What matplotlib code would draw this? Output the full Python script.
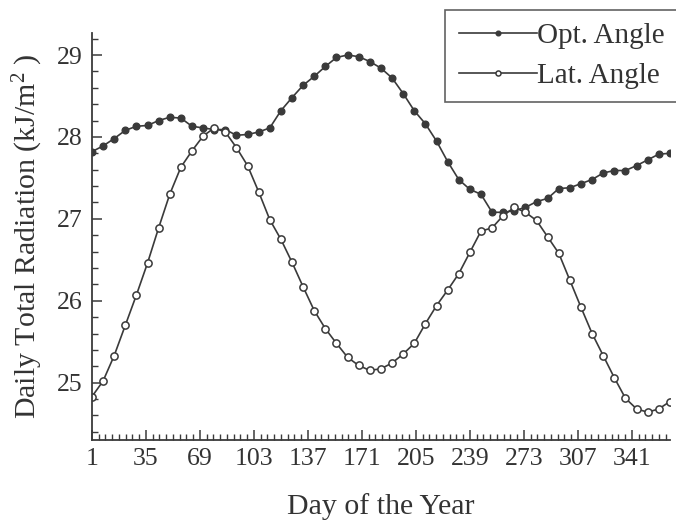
import matplotlib
matplotlib.use("Agg")
import matplotlib.pyplot as plt
from matplotlib.ticker import MultipleLocator

plt.rcParams['font.family'] = ['Liberation Serif', 'DejaVu Serif']
plt.rcParams['mathtext.fontset'] = 'custom'
plt.rcParams['mathtext.rm'] = 'Liberation Serif'
plt.rcParams['mathtext.it'] = 'Liberation Serif:italic'

# one point per week, day 1 .. day 365
days = list(range(1, 366, 7))

opt_angle = [27.82, 27.89, 27.98, 28.08, 28.13, 28.14, 28.20, 28.24, 28.23, 28.13,
             28.11, 28.09, 28.09, 28.02, 28.03, 28.06, 28.11, 28.32, 28.48, 28.63,
             28.74, 28.86, 28.97, 29.00, 28.98, 28.92, 28.84, 28.72, 28.53, 28.32,
             28.16, 27.95, 27.70, 27.48, 27.36, 27.30, 27.08, 27.08, 27.10, 27.14,
             27.21, 27.25, 27.37, 27.38, 27.43, 27.48, 27.56, 27.59, 27.59, 27.65,
             27.72, 27.79, 27.80]

lat_angle = [24.83, 25.02, 25.33, 25.70, 26.07, 26.46, 26.89, 27.30, 27.63, 27.83,
             28.01, 28.11, 28.06, 27.87, 27.65, 27.33, 26.99, 26.75, 26.47, 26.17,
             25.88, 25.66, 25.48, 25.31, 25.21, 25.15, 25.17, 25.24, 25.35, 25.48,
             25.72, 25.94, 26.13, 26.33, 26.59, 26.85, 26.89, 27.04, 27.14, 27.08,
             26.98, 26.78, 26.58, 26.25, 25.92, 25.60, 25.33, 25.06, 24.81, 24.68,
             24.64, 24.68, 24.77]

x_ticks = [1, 35, 69, 103, 137, 171, 205, 239, 273, 307, 341]
y_ticks = [25, 26, 27, 28, 29]

col = '#3a3a3a'
txt = '#333333'

fig = plt.figure(figsize=(6.76, 5.22), dpi=100)
ax = fig.add_axes([0.136, 0.157, 0.855, 0.78])

ax.plot(days, opt_angle, '-o', color=col, lw=1.2, ms=4.8,
        mfc=col, mec=col, label='Opt. Angle')
ax.plot(days, lat_angle, '-o', color=col, lw=1.2, ms=5.2,
        mfc='white', mec=col, mew=1.1, label='Lat. Angle')

ax.set_xlim(1, 365)
ax.set_ylim(24.3, 29.27)
ax.set_xticks(x_ticks)
ax.set_yticks(y_ticks)
ax.xaxis.set_minor_locator(MultipleLocator(4.25, offset=1))
ax.yaxis.set_minor_locator(MultipleLocator(0.2))

for s in ['top', 'right']:
    ax.spines[s].set_visible(False)
for s in ['left', 'bottom']:
    ax.spines[s].set_color(col)
    ax.spines[s].set_linewidth(1.3)

ax.tick_params(which='both', direction='in', colors=col, labelcolor=txt)
ax.tick_params(which='major', length=7, width=1.1, labelsize=18.5)
ax.tick_params(which='minor', length=4, width=1.0)
ax.tick_params(axis='y', pad=7)
ax.tick_params(axis='x', pad=6)

ax.set_xlabel('Day of the Year', fontsize=21.5, color=txt, labelpad=16)
ax.set_ylabel(r'Daily Total Radiation (kJ/m$^{2}$ )', fontsize=21.5,
              color=txt, labelpad=8)

leg = fig.legend(loc='upper right', bbox_to_anchor=(1.003, 0.981),
                 fontsize=21, frameon=True, fancybox=False, handlelength=2.7,
                 handletextpad=0.0, borderpad=0.45, labelspacing=0.45,
                 markerscale=0.7, borderaxespad=0)
leg.get_frame().set_edgecolor(col)
leg.get_frame().set_linewidth(1.2)
for t in leg.get_texts():
    t.set_color(txt)

fig.savefig('out.png', dpi=100)
